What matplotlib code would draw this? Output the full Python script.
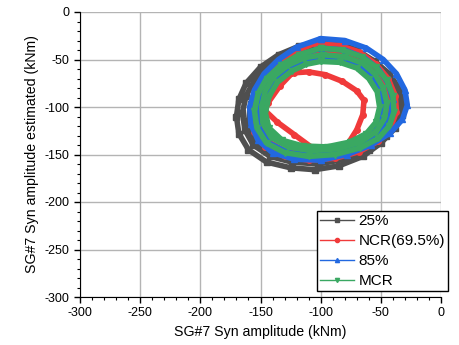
import matplotlib
matplotlib.use("Agg")
import matplotlib.pyplot as plt
from matplotlib.ticker import MultipleLocator

plt.rcParams['font.family'] = ['Liberation Sans', 'DejaVu Sans']
plt.rcParams['axes.unicode_minus'] = False

# ---- data (kNm); each series = several loops ----
labels = ["25%", "NCR(69.5%)", "85%", "MCR"]

loops_25 = [
    [(-100,-32),(-85,-33),(-70,-40),(-55,-52),(-43,-65),(-35,-80),(-31,-95),(-32,-108),(-38,-122),(-50,-138),(-65,-152),(-85,-162),(-105,-166),(-125,-164),(-145,-158),(-160,-145),(-168,-128),(-170,-110),(-168,-92),(-162,-75),(-150,-58),(-135,-45),(-118,-36),(-100,-32)],
    [(-100,-36),(-82,-38),(-66,-46),(-52,-58),(-42,-72),(-36,-88),(-34,-102),(-37,-116),(-46,-131),(-60,-145),(-80,-155),(-102,-160),(-124,-158),(-142,-152),(-156,-140),(-163,-124),(-165,-106),(-162,-88),(-155,-72),(-143,-57),(-128,-45),(-114,-38),(-100,-36)],
    [(-100,-40),(-80,-43),(-62,-52),(-50,-65),(-42,-80),(-38,-96),(-40,-112),(-48,-127),(-62,-140),(-82,-150),(-104,-155),(-126,-153),(-145,-146),(-157,-132),(-160,-115),(-158,-97),(-152,-80),(-140,-64),(-126,-51),(-112,-43),(-100,-40)],
]
loops_ncr = [
    [(-105,-33),(-85,-35),(-68,-42),(-54,-55),(-44,-70),(-38,-88),(-37,-105),(-42,-122),(-52,-136),(-68,-147),(-88,-154),(-110,-156),(-130,-152),(-146,-142),(-155,-126),(-157,-108),(-155,-90),(-148,-72),(-137,-56),(-122,-42),(-105,-33)],
    [(-100,-42),(-80,-44),(-64,-52),(-52,-64),(-44,-80),(-41,-97),(-44,-115),(-53,-130),(-68,-141),(-88,-148),(-110,-150),(-130,-146),(-144,-136),(-151,-120),(-152,-102),(-148,-85),(-139,-68),(-126,-54),(-112,-45),(-100,-42)],
    [(-110,-52),(-122,-62),(-134,-78),(-144,-96),(-146,-104),(-136,-116),(-122,-129),(-108,-142),(-96,-149),(-85,-146),(-77,-138),(-70,-124),(-65,-108),(-64,-93),(-70,-83),(-82,-73),(-96,-66),(-110,-63),(-122,-64),(-132,-68)],
]
loops_85 = [
    [(-100,-28),(-80,-30),(-62,-38),(-48,-50),(-37,-65),(-30,-82),(-28,-98),(-32,-113),(-42,-127),(-58,-140),(-78,-150),(-100,-156),(-122,-155),(-140,-148),(-152,-135),(-158,-118),(-159,-100),(-155,-82),(-147,-65),(-135,-50),(-120,-37),(-100,-28)],
    [(-100,-38),(-80,-40),(-64,-48),(-52,-60),(-44,-75),(-40,-92),(-42,-110),(-50,-125),(-64,-138),(-84,-147),(-106,-151),(-127,-148),(-143,-138),(-151,-122),(-153,-104),(-150,-86),(-142,-70),(-130,-56),(-116,-45),(-100,-38)],
    [(-100,-48),(-80,-50),(-65,-58),(-55,-70),(-49,-86),(-48,-103),(-53,-120),(-65,-133),(-85,-143),(-107,-146),(-127,-141),(-141,-130),(-147,-114),(-147,-96),(-142,-80),(-132,-65),(-118,-54),(-100,-48)],
]
loops_mcr = [
    [(-100,-38),(-82,-40),(-66,-47),(-54,-58),(-45,-72),(-40,-88),(-39,-105),(-43,-120),(-52,-133),(-67,-143),(-88,-150),(-110,-152),(-130,-148),(-145,-138),(-153,-122),(-155,-104),(-152,-86),(-145,-70),(-133,-56),(-118,-45),(-100,-38)],
    [(-98,-45),(-80,-47),(-65,-54),(-55,-65),(-48,-80),(-45,-96),(-47,-112),(-54,-126),(-67,-137),(-86,-144),(-108,-146),(-127,-142),(-141,-132),(-148,-117),(-149,-100),(-146,-83),(-139,-68),(-127,-56),(-113,-48),(-98,-45)],
    [(-100,-52),(-84,-53),(-70,-59),(-60,-70),(-53,-84),(-51,-100),(-54,-116),(-62,-128),(-76,-137),(-95,-142),(-115,-141),(-132,-135),(-143,-122),(-146,-106),(-143,-89),(-136,-74),(-124,-62),(-112,-55),(-100,-52)],
]

series = [loops_25, loops_ncr, loops_85, loops_mcr]
colors = ["#4f4f4f", "#f03a3a", "#2268e0", "#3aa862"]
markers = ["s", "o", "^", "v"]

fig = plt.figure(figsize=(4.6, 3.45), dpi=100)
ax = fig.add_axes([80/460, 1-297/345, 361/460, 285/345])

handles = []
for loops, c, m, lab in zip(series, colors, markers, labels):
    for loop in loops:
        xs = [p[0] for p in loop]
        ys = [p[1] for p in loop]
        ax.plot(xs, ys, color=c, lw=4.0, solid_capstyle='round',
                solid_joinstyle='round', zorder=3)
        ax.plot(xs, ys, ls='none', marker=m, ms=4, color=c, mec=c, zorder=3)
    h, = ax.plot([], [], color=c, lw=1, marker=m, ms=3, label=lab)
    handles.append(h)

ax.set_xlim(-300, 0)
ax.set_ylim(-300, 0)
ax.xaxis.set_major_locator(MultipleLocator(50))
ax.yaxis.set_major_locator(MultipleLocator(50))
ax.xaxis.set_minor_locator(MultipleLocator(10))
ax.yaxis.set_minor_locator(MultipleLocator(10))
ax.tick_params(which='major', direction='out', length=4, width=1, labelsize=9, colors='black')
ax.tick_params(which='minor', direction='out', length=2, width=0.8)
ax.grid(True, which='major', color='#b4b4b4', lw=1, zorder=0)
ax.spines['top'].set_visible(False)
ax.spines['right'].set_visible(False)
ax.set_axisbelow(True)

ax.set_xlabel("SG#7 Syn amplitude (kNm)", fontsize=10.2, labelpad=4)
ax.set_ylabel("SG#7 Syn amplitude estimated (kNm)", fontsize=10.2, labelpad=4)

leg = ax.legend(handles=handles, loc='lower right', bbox_to_anchor=(1.02, 0.02),
                fontsize=11, frameon=True, fancybox=False, edgecolor='black',
                framealpha=1, borderpad=0.2, labelspacing=0.4, handlelength=2.2,
                handletextpad=0.3, borderaxespad=0)
leg.get_frame().set_linewidth(1)
leg.set_zorder(5)

fig.savefig("out.png", dpi=100)
